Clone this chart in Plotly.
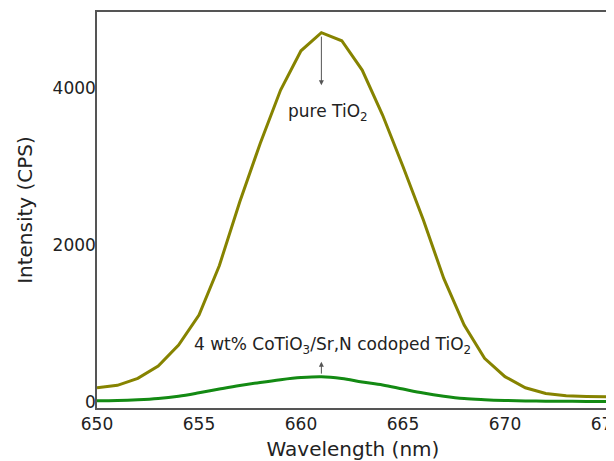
import plotly.graph_objects as go

wavelength = list(range(650, 676))
pure_tio2 = [182, 213, 302, 459, 726, 1108, 1740, 2552, 3295, 3975, 4475, 4705, 4603,
             4229, 3656, 3000, 2318, 1575, 981, 556, 323, 182, 110, 80, 72, 68]
codoped = [15, 18, 28, 45, 75, 118, 165, 210, 250, 285, 312, 323, 300,
           255, 217, 165, 115, 75, 45, 30, 20, 14, 10, 9, 8, 8]
x_ticks = [650, 655, 660, 665, 670, 675]
y_ticks = [0, 2000, 4000]
label_pure = "pure TiO<sub>2</sub>"
label_codoped = "4 wt% CoTiO<sub>3</sub>/Sr,N codoped TiO<sub>2</sub>"

FONT = "DejaVu Sans, Liberation Sans, Arial"
OLIVE = "#868300"
GREEN = "#138a13"

fig = go.Figure()
fig.add_trace(go.Scatter(x=wavelength, y=pure_tio2, mode="lines",
                         line=dict(color=OLIVE, width=3), showlegend=False))
fig.add_trace(go.Scatter(x=wavelength, y=codoped, mode="lines",
                         line=dict(color=GREEN, width=3, shape="spline"), showlegend=False))

ip = pure_tio2.index(max(pure_tio2))
ic = codoped.index(max(codoped))
px, py = wavelength[ip], pure_tio2[ip]
cx, cy = wavelength[ic], codoped[ic]

# arrow from pure TiO2 peak downwards to label
fig.add_annotation(x=px, y=py - 670, ax=px, ay=py - 30, axref="x", ayref="y",
                   xref="x", yref="y", text="", showarrow=True,
                   arrowhead=2, arrowsize=1, arrowwidth=1, arrowcolor="#555")
fig.add_annotation(x=px + 0.3, y=py - 1010, text=label_pure, showarrow=False,
                   font=dict(family=FONT, size=17, color="#222"))
# arrow from codoped peak upwards to label
fig.add_annotation(x=cx, y=cy + 190, ax=cx, ay=cy + 20, axref="x", ayref="y",
                   xref="x", yref="y", text="", showarrow=True,
                   arrowhead=2, arrowsize=1, arrowwidth=1, arrowcolor="#555")
fig.add_annotation(x=cx + 0.55, y=cy + 395, text=label_codoped, showarrow=False,
                   font=dict(family=FONT, size=17, color="#222"))

# the page body has an 8px default margin, so the figure is sized to fit the window
fig.update_layout(
    width=606, height=453,
    margin=dict(l=89, r=5, t=4, b=53),
    paper_bgcolor="white", plot_bgcolor="white",
    font=dict(family=FONT, size=17, color="#222"),
)
fig.update_xaxes(range=[650, 675.1], tickvals=x_ticks, ticktext=[str(v) for v in x_ticks],
                 showline=True, mirror=True, linecolor="#555", linewidth=1.5,
                 showgrid=False, zeroline=False, ticks="", automargin=False,
                 ticklabeloverflow="allow",
                 title=dict(text="Wavelength (nm)", font=dict(family=FONT, size=20, color="#222")))
fig.update_yaxes(range=[-76, 4969], tickvals=y_ticks, ticktext=[str(v) for v in y_ticks],
                 showline=True, mirror=True, linecolor="#555", linewidth=1.5,
                 showgrid=False, zeroline=False, ticks="", ticklabelstandoff=-4,
                 automargin=False,
                 title=dict(text="Intensity (CPS)", font=dict(family=FONT, size=20, color="#222")))

fig.write_html("out.html")
